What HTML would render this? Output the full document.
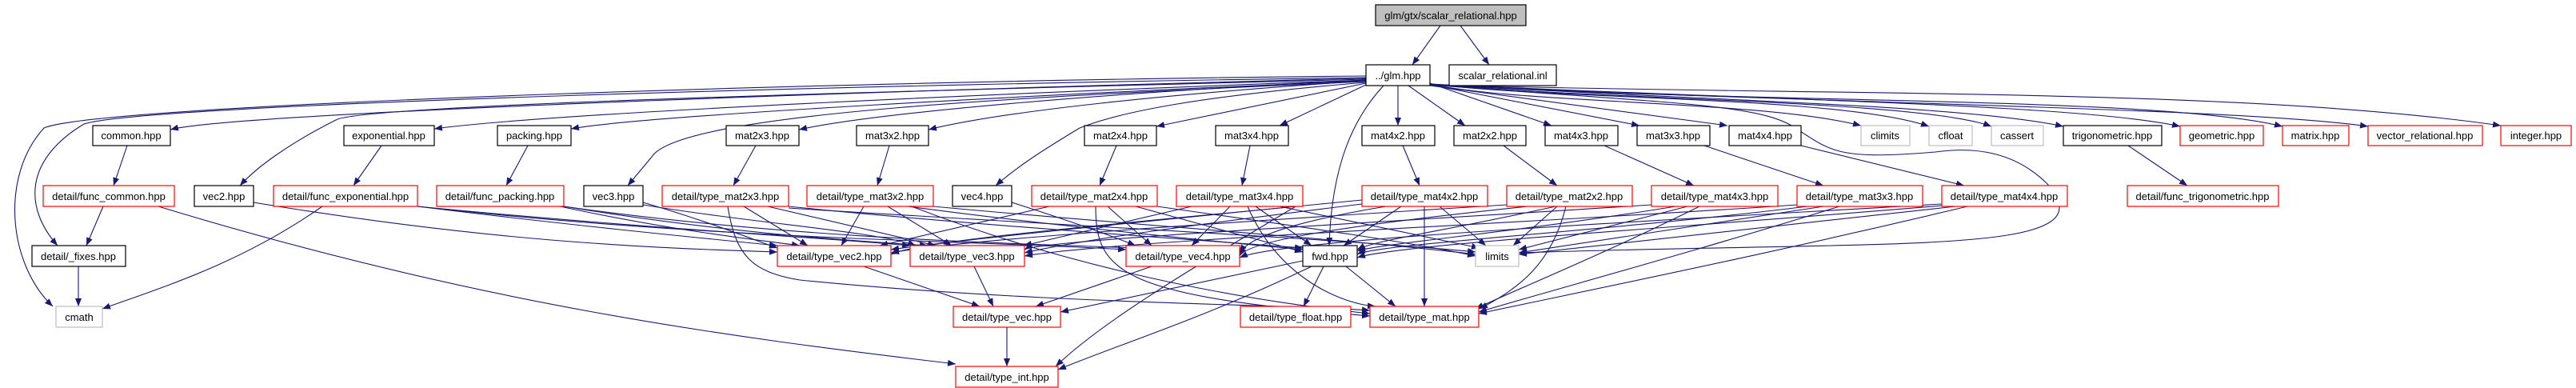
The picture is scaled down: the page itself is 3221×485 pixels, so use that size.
<!DOCTYPE html>
<html><head><meta charset="utf-8"><style>
html,body{margin:0;padding:0;background:#fff;}
svg{display:block;}
text{font-family:"Liberation Sans",Arial,sans-serif;font-size:13px;fill:#000;text-anchor:middle;}
.e{fill:none;stroke:#191970;stroke-width:1.1;marker-end:url(#a);}
.b{fill:#fff;stroke:#000;stroke-width:1.2;}
.r{fill:#fff;stroke:#ff0000;stroke-width:1.2;}
.g{fill:#fff;stroke:#bfbfbf;stroke-width:1.2;}
</style></head><body>
<svg width="3221" height="485" viewBox="0 0 3221 485" xmlns="http://www.w3.org/2000/svg">
<defs><marker id="a" viewBox="0 0 10 8" refX="10" refY="4" markerWidth="10" markerHeight="8" markerUnits="userSpaceOnUse" orient="auto"><path d="M0,0 L10,4 L0,8 z" fill="#191970"/></marker></defs>
<g>
<!-- root -->
<path class="e" d="M1801,32 L1766,81"/>
<path class="e" d="M1826,32 L1862,81"/>
<!-- glm long left -->
<path class="e" d="M1708,95 C1100,100 120,130 55,160 C0,220 10,330 66,383"/>
<path class="e" d="M1708,97 C1100,105 180,130 105,155 C30,200 30,260 72,307"/>
<path class="e" d="M1708,98 C1200,110 300,140 213,162"/>
<path class="e" d="M1708,99 C1200,112 450,130 420,150 C360,180 320,210 300,232"/>
<path class="e" d="M1708,100 C1300,115 700,140 543,161"/>
<path class="e" d="M1708,101 C1300,118 800,145 714,161"/>
<path class="e" d="M1708,102 C1300,120 850,140 815,196 L785,232"/>
<path class="e" d="M1708,100 C1400,115 1100,140 999,162"/>
<path class="e" d="M1708,101 C1450,118 1250,140 1161,162"/>
<path class="e" d="M1708,103 C1500,120 1400,140 1350,160 C1300,190 1270,210 1245,232"/>
<path class="e" d="M1708,104 L1446,158"/>
<path class="e" d="M1708,106 L1600,157"/>
<path class="e" d="M1730,107 C1690,150 1665,210 1662,307"/>
<path class="e" d="M1748,107 L1748,157"/>
<path class="e" d="M1761,107 L1832,157"/>
<path class="e" d="M1788,104 L1940,157"/>
<path class="e" d="M1788,106 L2050,157"/>
<path class="e" d="M1788,107 L2160,157"/>
<path class="e" d="M1788,105 C1900,130 2200,125 2327,157"/>
<path class="e" d="M1788,105 C1950,125 2300,120 2412,158"/>
<path class="e" d="M1788,105 C2000,125 2400,125 2490,158"/>
<path class="e" d="M1788,105 C2100,125 2450,130 2580,158"/>
<path class="e" d="M1788,105 C2200,125 2600,130 2726,158"/>
<path class="e" d="M1788,106 C2200,130 2700,120 2854,158"/>
<path class="e" d="M1788,106 C2300,130 2800,135 2961,158"/>
<path class="e" d="M1788,106 C2300,120 2800,110 3127,157"/>
<path class="e" d="M1788,106 C2100,130 2200,130 2245,160 C2290,190 2300,200 2420,190 C2470,183 2520,190 2560,230 C2640,320 2400,300 1899,316"/>
<!-- row2 to row3 -->
<path class="e" d="M159,182 L142,232"/>
<path class="e" d="M477,182 L442,232"/>
<path class="e" d="M660,182 L633,232"/>
<path class="e" d="M945,182 L917,232"/>
<path class="e" d="M1112,182 L1097,232"/>
<path class="e" d="M1396,182 L1375,232"/>
<path class="e" d="M1563,182 L1553,232"/>
<path class="e" d="M1754,182 L1775,232"/>
<path class="e" d="M1880,182 L1947,232"/>
<path class="e" d="M2006,182 L2118,232"/>
<path class="e" d="M2131,182 L2280,232"/>
<path class="e" d="M2252,182 L2456,232"/>
<path class="e" d="M2661,182 L2735,232"/>
<!-- func_* -->
<path class="e" d="M129,258 L108,307"/>
<path class="e" d="M198,258 C600,380 900,420 1195,455"/>
<path class="e" d="M98,333 L98,383"/>
<path class="e" d="M403,258 C300,330 200,360 128,386"/>
<path class="e" d="M522,258 C700,280 850,295 972,307"/>
<path class="e" d="M522,258 C800,285 1000,295 1138,307"/>
<path class="e" d="M522,258 C900,300 1200,300 1408,312"/>
<path class="e" d="M700,258 C850,290 950,300 1000,307"/>
<path class="e" d="M705,258 C900,290 1050,300 1160,307"/>
<path class="e" d="M705,258 C1000,300 1300,305 1420,310"/>
<path class="e" d="M317,253 C600,300 800,310 972,315"/>
<path class="e" d="M804,253 C880,275 930,295 972,310"/>
<path class="e" d="M804,256 C950,280 1100,290 1145,307"/>
<path class="e" d="M1265,253 C1350,280 1390,295 1420,307"/>
<!-- type_mat to vec etc -->
<path class="e" d="M930,258 L1010,307"/>
<path class="e" d="M960,258 L1170,307"/>
<path class="e" d="M986,258 C1200,280 1500,300 1629,310"/>
<path class="e" d="M986,260 C1300,280 1700,300 1845,315"/>
<path class="e" d="M910,258 C920,320 940,340 1000,350 C1300,380 1600,380 1713,388"/>
<path class="e" d="M1080,258 L1052,307"/>
<path class="e" d="M1110,258 L1190,307"/>
<path class="e" d="M1135,258 C1300,280 1500,300 1629,312"/>
<path class="e" d="M1167,258 C1400,280 1700,300 1845,318"/>
<path class="e" d="M1140,258 C1300,320 1500,370 1713,392"/>
<path class="e" d="M1312,258 L1100,307"/>
<path class="e" d="M1385,258 L1440,307"/>
<path class="e" d="M1420,258 L1629,315"/>
<path class="e" d="M1447,258 C1600,280 1750,300 1845,320"/>
<path class="e" d="M1370,258 C1370,340 1400,370 1713,395"/>
<path class="e" d="M1490,258 L1280,307"/>
<path class="e" d="M1538,258 L1490,307"/>
<path class="e" d="M1570,258 L1640,307"/>
<path class="e" d="M1600,258 L1850,310"/>
<path class="e" d="M1560,258 C1600,350 1680,380 1720,383"/>
<path class="e" d="M1620,258 C1400,280 1200,300 1114,312"/>
<path class="e" d="M1703,250 C1400,280 1150,300 1114,318"/>
<path class="e" d="M1703,255 C1500,280 1350,300 1281,316"/>
<path class="e" d="M1733,258 C1600,280 1560,300 1550,316"/>
<path class="e" d="M1752,258 L1680,307"/>
<path class="e" d="M1800,258 L1858,307"/>
<path class="e" d="M1781,258 L1781,383"/>
<path class="e" d="M1884,256 C1500,280 1200,300 1114,316"/>
<path class="e" d="M1910,258 C1700,280 1560,300 1550,320"/>
<path class="e" d="M1945,258 C1800,290 1720,300 1697,312"/>
<path class="e" d="M1947,258 L1892,307"/>
<path class="e" d="M1958,258 C1940,330 1900,360 1850,386"/>
<path class="e" d="M2065,256 C1700,280 1300,300 1281,312"/>
<path class="e" d="M2095,258 C1900,290 1720,305 1697,314"/>
<path class="e" d="M2110,258 L1899,312"/>
<path class="e" d="M2125,258 C2000,320 1900,360 1845,386"/>
<path class="e" d="M2247,256 C1900,280 1400,300 1281,320"/>
<path class="e" d="M2260,258 C2000,290 1720,305 1697,318"/>
<path class="e" d="M2280,258 L1899,316"/>
<path class="e" d="M2300,258 C2100,320 1950,360 1849,390"/>
<path class="e" d="M2428,255 C2000,280 1600,300 1550,322"/>
<path class="e" d="M2440,256 C2100,285 1750,305 1697,322"/>
<path class="e" d="M2445,258 L1899,318"/>
<path class="e" d="M2460,258 C2200,320 2000,360 1849,392"/>
<!-- lower -->
<path class="e" d="M1080,333 L1225,383"/>
<path class="e" d="M1218,333 L1242,383"/>
<path class="e" d="M1440,333 L1295,383"/>
<path class="e" d="M1629,326 L1326,390"/>
<path class="e" d="M1655,333 L1630,383"/>
<path class="e" d="M1683,333 L1745,383"/>
<path class="e" d="M1640,333 C1500,400 1400,430 1323,462"/>
<path class="e" d="M1259,409 L1259,458"/>
<path class="e" d="M1620,258 C1500,330 1380,400 1320,458"/>
</g>
<!-- nodes -->
<rect class="b" x="1720" y="6" width="188" height="26" style="fill:#bfbfbf"/><text x="1814" y="24">glm/gtx/scalar_relational.hpp</text>
<rect class="b" x="1708" y="81" width="80" height="26"/><text x="1748" y="99">../glm.hpp</text>
<rect class="b" x="1812" y="81" width="134" height="26"/><text x="1879" y="99">scalar_relational.inl</text>
<rect class="b" x="116" y="157" width="97" height="25"/><text x="164" y="174">common.hpp</text>
<rect class="b" x="430" y="157" width="113" height="25"/><text x="486" y="174">exponential.hpp</text>
<rect class="b" x="622" y="157" width="92" height="25"/><text x="668" y="174">packing.hpp</text>
<rect class="b" x="908" y="157" width="91" height="25"/><text x="953" y="174">mat2x3.hpp</text>
<rect class="b" x="1071" y="157" width="90" height="25"/><text x="1116" y="174">mat3x2.hpp</text>
<rect class="b" x="1356" y="157" width="90" height="25"/><text x="1401" y="174">mat2x4.hpp</text>
<rect class="b" x="1520" y="157" width="91" height="25"/><text x="1565" y="174">mat3x4.hpp</text>
<rect class="b" x="1703" y="157" width="91" height="25"/><text x="1748" y="174">mat4x2.hpp</text>
<rect class="b" x="1818" y="157" width="90" height="25"/><text x="1863" y="174">mat2x2.hpp</text>
<rect class="b" x="1932" y="157" width="91" height="25"/><text x="1977" y="174">mat4x3.hpp</text>
<rect class="b" x="2047" y="157" width="91" height="25"/><text x="2092" y="174">mat3x3.hpp</text>
<rect class="b" x="2162" y="157" width="90" height="25"/><text x="2207" y="174">mat4x4.hpp</text>
<rect class="g" x="2327" y="157" width="61" height="25"/><text x="2357" y="174">climits</text>
<rect class="g" x="2412" y="157" width="54" height="25"/><text x="2439" y="174">cfloat</text>
<rect class="g" x="2490" y="157" width="65" height="25"/><text x="2522" y="174">cassert</text>
<rect class="b" x="2580" y="157" width="123" height="25"/><text x="2641" y="174">trigonometric.hpp</text>
<rect class="r" x="2726" y="157" width="104" height="25"/><text x="2778" y="174">geometric.hpp</text>
<rect class="r" x="2854" y="157" width="83" height="25"/><text x="2895" y="174">matrix.hpp</text>
<rect class="r" x="2961" y="157" width="143" height="25"/><text x="3032" y="174">vector_relational.hpp</text>
<rect class="r" x="3127" y="157" width="88" height="25"/><text x="3171" y="174">integer.hpp</text>
<rect class="r" x="54" y="232" width="164" height="26"/><text x="136" y="250">detail/func_common.hpp</text>
<rect class="b" x="243" y="232" width="74" height="26"/><text x="280" y="250">vec2.hpp</text>
<rect class="r" x="342" y="232" width="180" height="26"/><text x="432" y="250">detail/func_exponential.hpp</text>
<rect class="r" x="546" y="232" width="159" height="26"/><text x="625" y="250">detail/func_packing.hpp</text>
<rect class="b" x="730" y="232" width="74" height="26"/><text x="767" y="250">vec3.hpp</text>
<rect class="r" x="828" y="232" width="158" height="26"/><text x="907" y="250">detail/type_mat2x3.hpp</text>
<rect class="r" x="1009" y="232" width="158" height="26"/><text x="1088" y="250">detail/type_mat3x2.hpp</text>
<rect class="b" x="1191" y="232" width="74" height="26"/><text x="1228" y="250">vec4.hpp</text>
<rect class="r" x="1290" y="232" width="157" height="26"/><text x="1368" y="250">detail/type_mat2x4.hpp</text>
<rect class="r" x="1471" y="232" width="158" height="26"/><text x="1550" y="250">detail/type_mat3x4.hpp</text>
<rect class="r" x="1703" y="232" width="157" height="26"/><text x="1781" y="250">detail/type_mat4x2.hpp</text>
<rect class="r" x="1884" y="232" width="157" height="26"/><text x="1962" y="250">detail/type_mat2x2.hpp</text>
<rect class="r" x="2065" y="232" width="158" height="26"/><text x="2144" y="250">detail/type_mat4x3.hpp</text>
<rect class="r" x="2247" y="232" width="157" height="26"/><text x="2325" y="250">detail/type_mat3x3.hpp</text>
<rect class="r" x="2428" y="232" width="157" height="26"/><text x="2506" y="250">detail/type_mat4x4.hpp</text>
<rect class="r" x="2660" y="232" width="189" height="26"/><text x="2754" y="250">detail/func_trigonometric.hpp</text>
<rect class="b" x="40" y="307" width="117" height="26"/><text x="98" y="325">detail/_fixes.hpp</text>
<rect class="r" x="972" y="307" width="142" height="26"/><text x="1043" y="325">detail/type_vec2.hpp</text>
<rect class="r" x="1138" y="307" width="143" height="26"/><text x="1209" y="325">detail/type_vec3.hpp</text>
<rect class="r" x="1408" y="307" width="142" height="26"/><text x="1479" y="325">detail/type_vec4.hpp</text>
<rect class="b" x="1629" y="307" width="68" height="26"/><text x="1663" y="325">fwd.hpp</text>
<rect class="g" x="1845" y="307" width="54" height="26"/><text x="1872" y="325">limits</text>
<rect class="g" x="70" y="383" width="58" height="26"/><text x="99" y="401">cmath</text>
<rect class="r" x="1192" y="383" width="134" height="26"/><text x="1259" y="401">detail/type_vec.hpp</text>
<rect class="r" x="1551" y="383" width="138" height="26"/><text x="1620" y="401">detail/type_float.hpp</text>
<rect class="r" x="1713" y="383" width="136" height="26"/><text x="1781" y="401">detail/type_mat.hpp</text>
<rect class="r" x="1195" y="458" width="128" height="26"/><text x="1259" y="476">detail/type_int.hpp</text>
</svg>
</body></html>
